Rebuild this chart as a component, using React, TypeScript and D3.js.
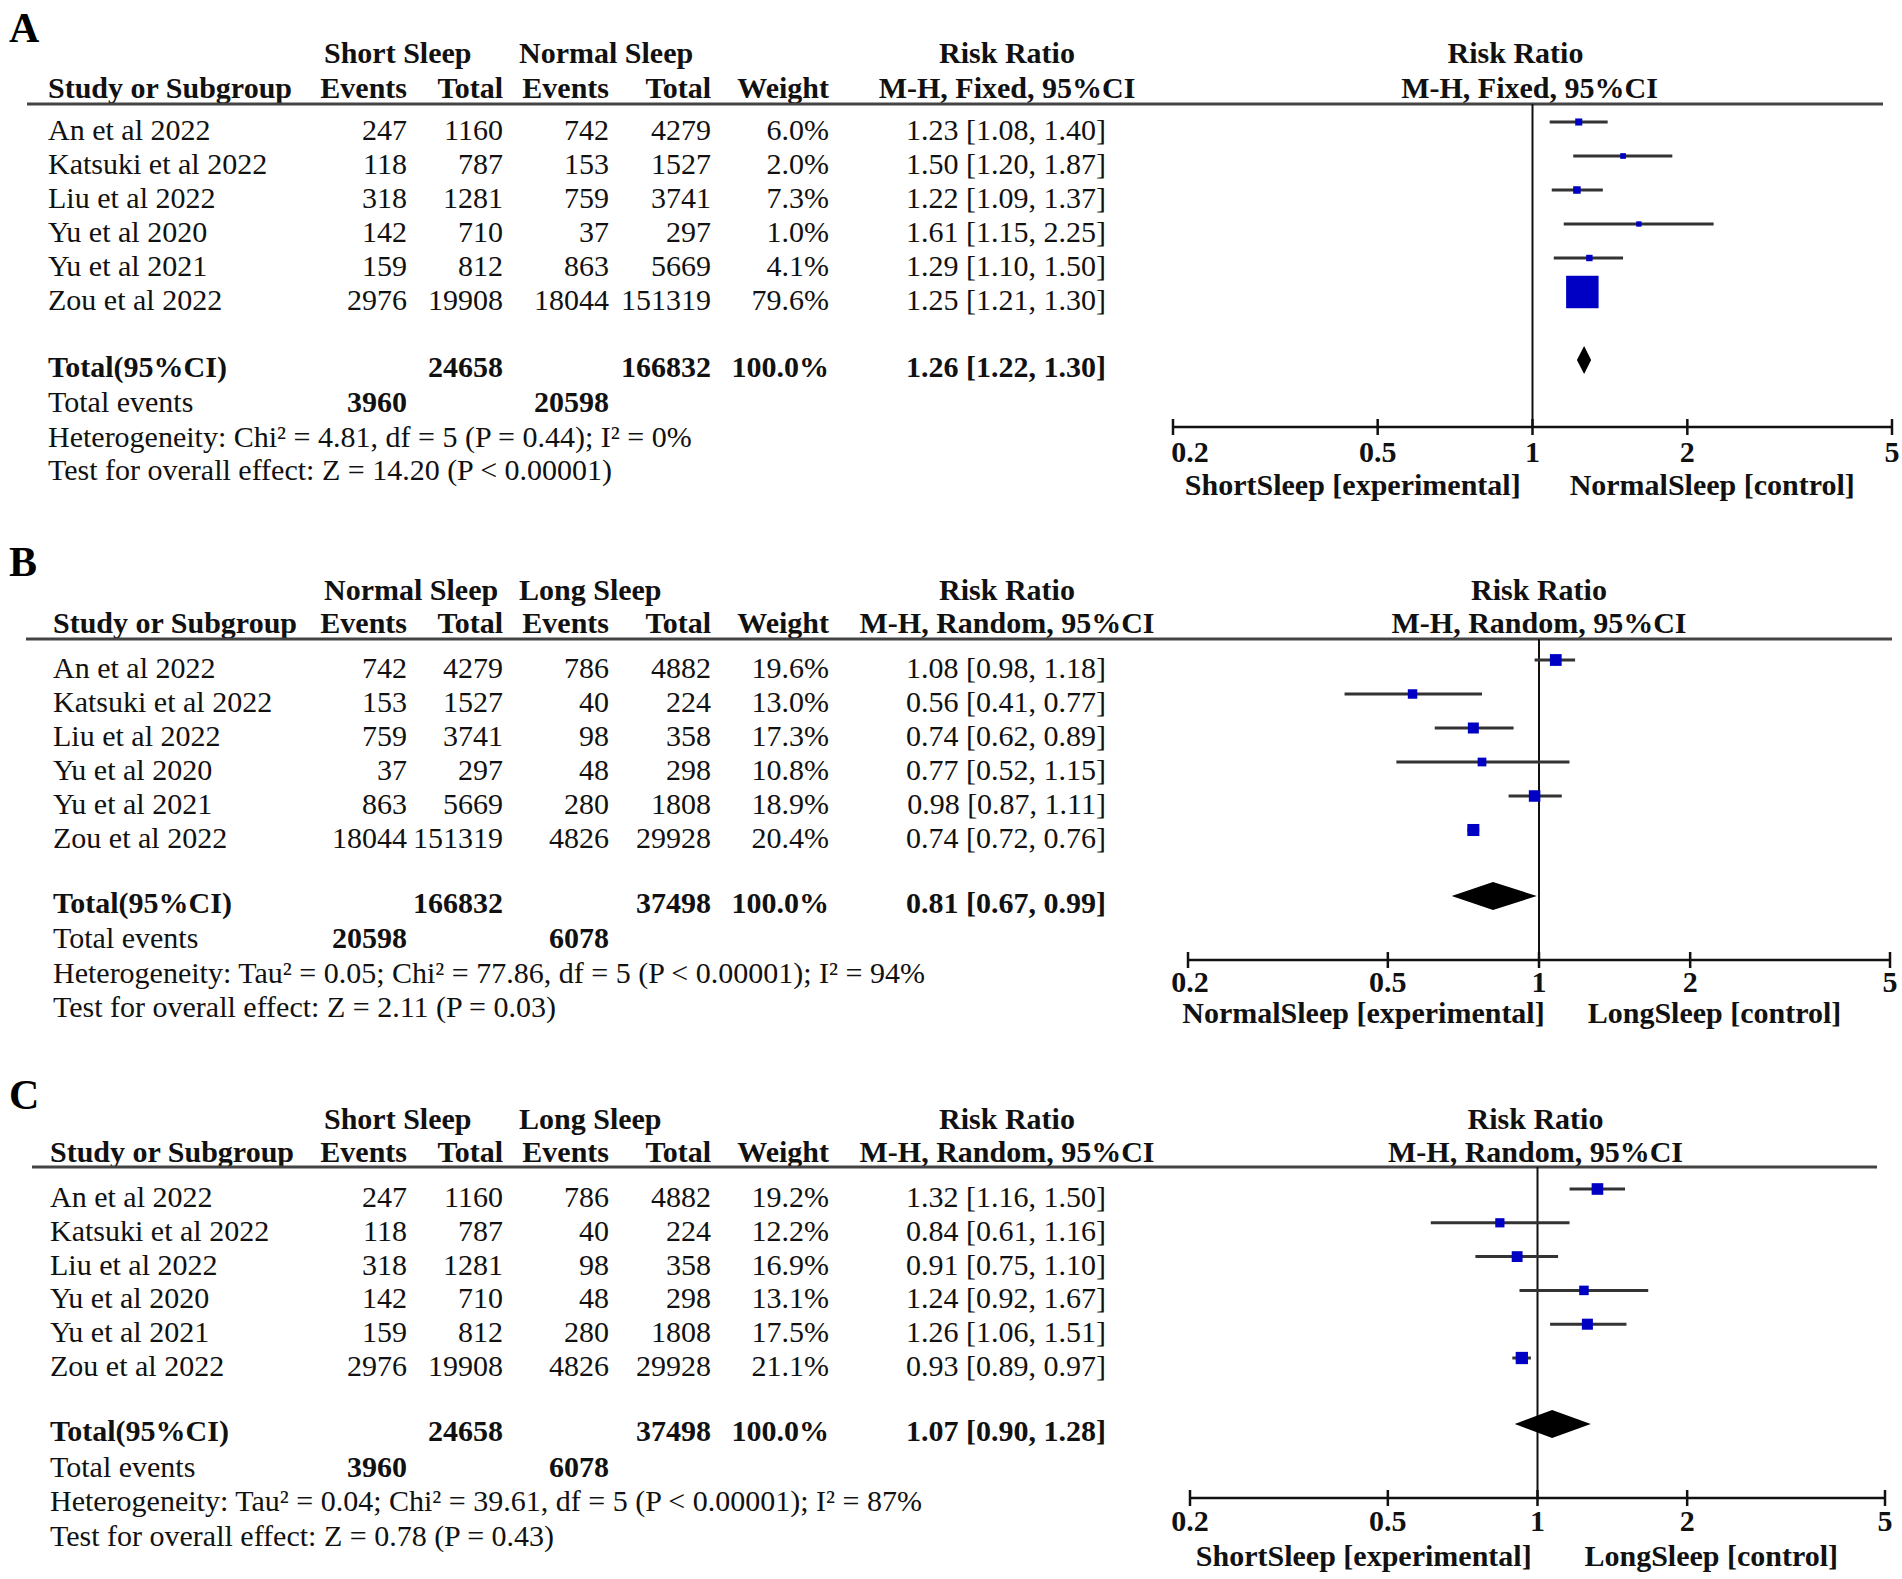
import React from 'react';
import * as d3 from 'd3';

// shared study data
const studies = ['An et al 2022', 'Katsuki et al 2022', 'Liu et al 2022', 'Yu et al 2020', 'Yu et al 2021', 'Zou et al 2022'];
const shortEvents = [247, 118, 318, 142, 159, 2976];
const shortTotal = [1160, 787, 1281, 710, 812, 19908];
const normalEvents = [742, 153, 759, 37, 863, 18044];
const normalTotal = [4279, 1527, 3741, 297, 5669, 151319];
const longEvents = [786, 40, 98, 48, 280, 4826];
const longTotal = [4882, 224, 358, 298, 1808, 29928];

// A: short vs normal
const weightA = [6.0, 2.0, 7.3, 1.0, 4.1, 79.6];
const rrA = [1.23, 1.5, 1.22, 1.61, 1.29, 1.25];
const loA = [1.08, 1.2, 1.09, 1.15, 1.1, 1.21];
const hiA = [1.4, 1.87, 1.37, 2.25, 1.5, 1.3];
// B: normal vs long
const weightB = [19.6, 13.0, 17.3, 10.8, 18.9, 20.4];
const rrB = [1.08, 0.56, 0.74, 0.77, 0.98, 0.74];
const loB = [0.98, 0.41, 0.62, 0.52, 0.87, 0.72];
const hiB = [1.18, 0.77, 0.89, 1.15, 1.11, 0.76];
// C: short vs long
const weightC = [19.2, 12.2, 16.9, 13.1, 17.5, 21.1];
const rrC = [1.32, 0.84, 0.91, 1.24, 1.26, 0.93];
const loC = [1.16, 0.61, 0.75, 0.92, 1.06, 0.89];
const hiC = [1.5, 1.16, 1.1, 1.67, 1.51, 0.97];

const tickValues = [0.2, 0.5, 1, 2, 5];

const panels = [
  {
    letter: 'A', groups: ['Short Sleep', 'Normal Sleep'], model: 'M-H, Fixed, 95%CI',
    ev1: shortEvents, tot1: shortTotal, ev2: normalEvents, tot2: normalTotal,
    weight: weightA, rr: rrA, lo: loA, hi: hiA,
    total: { n1: 24658, n2: 166832, rr: 1.26, lo: 1.22, hi: 1.3, e1: 3960, e2: 20598 },
    het: 'Heterogeneity: Chi² = 4.81, df = 5 (P = 0.44); I² = 0%',
    test: 'Test for overall effect: Z = 14.20 (P < 0.00001)',
    labels: ['ShortSleep [experimental]', 'NormalSleep [control]'],
  },
  {
    letter: 'B', groups: ['Normal Sleep', 'Long Sleep'], model: 'M-H, Random, 95%CI',
    ev1: normalEvents, tot1: normalTotal, ev2: longEvents, tot2: longTotal,
    weight: weightB, rr: rrB, lo: loB, hi: hiB,
    total: { n1: 166832, n2: 37498, rr: 0.81, lo: 0.67, hi: 0.99, e1: 20598, e2: 6078 },
    het: 'Heterogeneity: Tau² = 0.05; Chi² = 77.86, df = 5 (P < 0.00001); I² = 94%',
    test: 'Test for overall effect: Z = 2.11 (P = 0.03)',
    labels: ['NormalSleep [experimental]', 'LongSleep [control]'],
  },
  {
    letter: 'C', groups: ['Short Sleep', 'Long Sleep'], model: 'M-H, Random, 95%CI',
    ev1: shortEvents, tot1: shortTotal, ev2: longEvents, tot2: longTotal,
    weight: weightC, rr: rrC, lo: loC, hi: hiC,
    total: { n1: 24658, n2: 37498, rr: 1.07, lo: 0.9, hi: 1.28, e1: 3960, e2: 6078 },
    het: 'Heterogeneity: Tau² = 0.04; Chi² = 39.61, df = 5 (P < 0.00001); I² = 87%',
    test: 'Test for overall effect: Z = 0.78 (P = 0.43)',
    labels: ['ShortSleep [experimental]', 'LongSleep [control]'],
  },
];

// layout (vertical centres of text lines, px)
const layouts = [
  { letterY: 42, studyX: 48, h1: 53, h2: 88, rule: 104, ruleX: [27, 1883], row0: 130, row5: 300, tot: 367, tev: 402, het: 437, test: 470, axis: 427, tick: 452, title: 485, xr: [1173, 1892], headShift: [-17, -3] },
  { letterY: 576, studyX: 53, h1: 590, h2: 623, rule: 639, ruleX: [26, 1892], row0: 668, row5: 838, tot: 903, tev: 938, het: 973, test: 1007, axis: 960, tick: 982, title: 1013, xr: [1188, 1890], headShift: [0, 0] },
  { letterY: 1109, studyX: 50, h1: 1119, h2: 1152, rule: 1167, ruleX: [32, 1877], row0: 1197, row5: 1366, tot: 1431, tev: 1467, het: 1501, test: 1536, axis: 1498, tick: 1521, title: 1556, xr: [1190, 1885], headShift: [-2, -2] },
];

const col = { ev1: 407, tot1: 503, ev2: 609, tot2: 711, weight: 829, rr: 1106, rrHead: 1007, g1: 324, g2: 519 };
const FONT = '"Liberation Serif", "Times New Roman", serif';
const FS = 30;
const base = 10; // centre -> baseline

const sizeScale = d3.scaleLinear().domain([0, 100]).range([5, 39.5]);
const fmtRR = (r: number, l: number, h: number) => `${r.toFixed(2)} [${l.toFixed(2)}, ${h.toFixed(2)}]`;

function Panel({ p, L }: { p: typeof panels[0]; L: typeof layouts[0] }) {
  const x = d3.scaleLog().domain([0.2, 5]).range(L.xr);
  const y = d3.scaleLinear().domain([0, 5]).range([L.row0, L.row5]);
  const T = (props: any) => <text fontFamily={FONT} fontSize={FS} fill="#111" {...props} />;
  const x1 = x(1);
  const ciOff = -8;
  const dy = L.tot - 7;
  const dPath = `M${x(p.total.lo)},${dy} L${x(p.total.rr)},${dy - 14} L${x(p.total.hi)},${dy} L${x(p.total.rr)},${dy + 14} Z`;
  const leftMid = (L.xr[0] + x1) / 2;
  const rightMid = (x1 + L.xr[1]) / 2;
  return (
    <g>
      <text x={9} y={L.letterY} fontFamily={FONT} fontSize={42} fontWeight="bold">{p.letter}</text>
      {/* header */}
      <g>
        <T x={col.g1} y={L.h1 + base} fontWeight="bold">{p.groups[0]}</T>
        <T x={col.g2} y={L.h1 + base} fontWeight="bold">{p.groups[1]}</T>
        <T x={col.rrHead} y={L.h1 + base} textAnchor="middle" fontWeight="bold">Risk Ratio</T>
        <T x={x1 + L.headShift[0]} y={L.h1 + base} textAnchor="middle" fontWeight="bold">Risk Ratio</T>
        <T x={L.studyX} y={L.h2 + base} fontWeight="bold">Study or Subgroup</T>
        <T x={col.ev1} y={L.h2 + base} textAnchor="end" fontWeight="bold">Events</T>
        <T x={col.tot1} y={L.h2 + base} textAnchor="end" fontWeight="bold">Total</T>
        <T x={col.ev2} y={L.h2 + base} textAnchor="end" fontWeight="bold">Events</T>
        <T x={col.tot2} y={L.h2 + base} textAnchor="end" fontWeight="bold">Total</T>
        <T x={col.weight} y={L.h2 + base} textAnchor="end" fontWeight="bold">Weight</T>
        <T x={col.rrHead} y={L.h2 + base} textAnchor="middle" fontWeight="bold">{p.model}</T>
        <T x={x1 + L.headShift[1]} y={L.h2 + base} textAnchor="middle" fontWeight="bold">{p.model}</T>
      </g>
      <line x1={L.ruleX[0]} x2={L.ruleX[1]} y1={L.rule} y2={L.rule} stroke="#444" strokeWidth={3} />
      {/* vertical line of no effect */}
      <line x1={x1} x2={x1} y1={L.rule} y2={L.axis} stroke="#111" strokeWidth={2} />
      {/* study rows */}
      {studies.map((s, i) => {
        const cy = y(i);
        const sz = sizeScale(p.weight[i]);
        return (
          <g key={s}>
            <T x={L.studyX} y={cy + base}>{s}</T>
            <T x={col.ev1} y={cy + base} textAnchor="end">{p.ev1[i]}</T>
            <T x={col.tot1} y={cy + base} textAnchor="end">{p.tot1[i]}</T>
            <T x={col.ev2} y={cy + base} textAnchor="end">{p.ev2[i]}</T>
            <T x={col.tot2} y={cy + base} textAnchor="end">{p.tot2[i]}</T>
            <T x={col.weight} y={cy + base} textAnchor="end">{p.weight[i].toFixed(1)}%</T>
            <T x={col.rr} y={cy + base} textAnchor="end">{fmtRR(p.rr[i], p.lo[i], p.hi[i])}</T>
            <line x1={x(p.lo[i])} x2={x(p.hi[i])} y1={cy + ciOff} y2={cy + ciOff} stroke="#333" strokeWidth={3} />
            <rect x={x(p.rr[i]) - sz / 2} y={cy + ciOff - sz / 2} width={sz} height={sz} fill="#0000c4" />
          </g>
        );
      })}
      {/* totals */}
      <g>
        <T x={L.studyX} y={L.tot + base} fontWeight="bold">Total(95%CI)</T>
        <T x={col.tot1} y={L.tot + base} textAnchor="end" fontWeight="bold">{p.total.n1}</T>
        <T x={col.tot2} y={L.tot + base} textAnchor="end" fontWeight="bold">{p.total.n2}</T>
        <T x={col.weight} y={L.tot + base} textAnchor="end" fontWeight="bold">100.0%</T>
        <T x={col.rr} y={L.tot + base} textAnchor="end" fontWeight="bold">{fmtRR(p.total.rr, p.total.lo, p.total.hi)}</T>
        <T x={L.studyX} y={L.tev + base}>Total events</T>
        <T x={col.ev1} y={L.tev + base} textAnchor="end" fontWeight="bold">{p.total.e1}</T>
        <T x={col.ev2} y={L.tev + base} textAnchor="end" fontWeight="bold">{p.total.e2}</T>
        <T x={L.studyX} y={L.het + base}>{p.het}</T>
        <T x={L.studyX} y={L.test + base}>{p.test}</T>
      </g>
      <path d={dPath} fill="#000" />
      {/* axis */}
      <line x1={L.xr[0]} x2={L.xr[1]} y1={L.axis} y2={L.axis} stroke="#111" strokeWidth={2.5} />
      {tickValues.map((t, i) => (
        <g key={t}>
          <line x1={x(t)} x2={x(t)} y1={L.axis - 8} y2={L.axis + 8} stroke="#111" strokeWidth={2.5} />
          <T x={i === 0 ? Math.max(x(t), 1190) : x(t)} y={L.tick + base} textAnchor="middle" fontWeight="bold">{t}</T>
        </g>
      ))}
      <T x={leftMid} y={L.title + base} textAnchor="middle" fontWeight="bold">{p.labels[0]}</T>
      <T x={rightMid} y={L.title + base} textAnchor="middle" fontWeight="bold">{p.labels[1]}</T>
    </g>
  );
}

export default function App() {
  return (
    <svg width={1902} height={1579} style={{ position: 'absolute', left: 0, top: 0, background: '#fff' }}>
      <rect width={1902} height={1579} fill="#fff" />
      {panels.map((p, i) => (
        <Panel key={p.letter} p={p} L={layouts[i]} />
      ))}
    </svg>
  );
}
